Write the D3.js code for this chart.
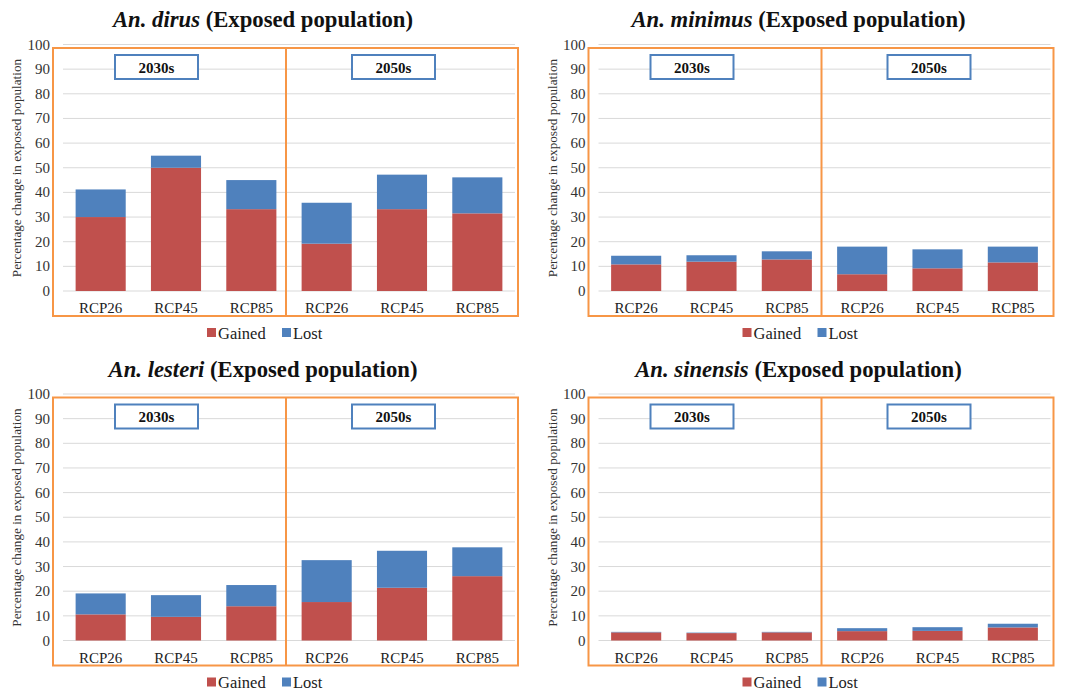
<!DOCTYPE html>
<html>
<head>
<meta charset="utf-8">
<script src="https://cdn.jsdelivr.net/npm/d3@7"></script>
<style>
  body { margin: 0; background: #fff; }
  text { font-family: 'Liberation Serif', 'Times New Roman', Times, serif; }
</style>
</head>
<body>
<svg id="chart" width="1072" height="691" font-family="Liberation Serif, Times New Roman, serif"></svg>
<script>
// categories and series (percentage change in exposed population)
var scenarios = ["RCP26", "RCP45", "RCP85"];
var periods = ["2030s", "2050s"];
var yTicks = [0, 10, 20, 30, 40, 50, 60, 70, 80, 90, 100];
var species = ["An. dirus", "An. minimus", "An. lesteri", "An. sinensis"];
// order: 2030s RCP26, RCP45, RCP85, 2050s RCP26, RCP45, RCP85
var dirusGained    = [30, 50, 33.2, 19.2, 33.2, 31.5];
var dirusLost      = [11.2, 4.9, 11.8, 16.6, 14.0, 14.6];
var minimusGained  = [10.8, 11.9, 12.8, 6.8, 9.2, 11.6];
var minimusLost    = [3.5, 2.6, 3.3, 11.2, 7.7, 6.4];
var lesteriGained  = [10.6, 9.6, 13.9, 15.6, 21.4, 26.1];
var lesteriLost    = [8.5, 8.8, 8.6, 17.0, 15.0, 11.7];
var sinensisGained = [3.3, 3.0, 3.3, 3.8, 3.9, 5.3];
var sinensisLost   = [0.2, 0.2, 0.2, 1.2, 1.5, 1.5];
var seriesNames = ["Gained", "Lost"];

var colors = { Gained: "#c0504d", Lost: "#4f81bd" };
var orange = "#f79646";
var serif = "Liberation Serif";

var panels = [
    { name: species[0], gained: dirusGained,    lost: dirusLost,    dx: 0,     dy: 0 },
    { name: species[1], gained: minimusGained,  lost: minimusLost,  dx: 535.5, dy: 0 },
    { name: species[2], gained: lesteriGained,  lost: lesteriLost,  dx: 0,     dy: 349.5 },
    { name: species[3], gained: sinensisGained, lost: sinensisLost, dx: 535.5, dy: 349.5 }
];

var svg = d3.select("#chart");

panels.forEach(drawPanel);

function drawPanel(p) {
    var g = svg.append("g").attr("transform", "translate(" + p.dx + "," + p.dy + ")")
        .attr("font-family", serif);

    var cats = [];
    periods.forEach(pr => scenarios.forEach(s => cats.push(pr + "|" + s)));
    var rows = cats.map((c, i) => ({ cat: c, Gained: p.gained[i], Lost: p.lost[i] }));

    var x = d3.scaleBand().domain(cats).range([63, 515])
        .paddingInner(0.335).paddingOuter(0.1675);
    var y = d3.scaleLinear().domain([0, 100]).range([291, 44.5]);

    // title
    var t = g.append("text").attr("x", 263).attr("y", 27)
        .attr("text-anchor", "middle").attr("font-size", 22.7)
        .attr("font-weight", "bold").attr("fill", "#111");
    t.append("tspan").attr("font-style", "italic").text(p.name);
    t.append("tspan").text(" (Exposed population)");

    // gridlines
    g.selectAll("line.grid").data(yTicks).enter()
        .append("line").attr("class", "grid")
        .attr("x1", 63).attr("x2", 515)
        .attr("y1", d => y(d)).attr("y2", d => y(d))
        .attr("stroke", "#d9d9d9").attr("stroke-width", 1);

    // y tick labels
    g.selectAll("text.ytick").data(yTicks).enter()
        .append("text").attr("class", "ytick")
        .attr("x", 50).attr("y", d => y(d) + 5)
        .attr("text-anchor", "end").attr("font-size", 15)
        .attr("fill", "#333").text(d => d);

    // y axis title
    g.append("text")
        .attr("transform", "translate(21,168) rotate(-90)")
        .attr("text-anchor", "middle").attr("font-size", 13.2)
        .attr("fill", "#333")
        .text("Percentage change in exposed population");

    // stacked bars
    var stack = d3.stack().keys(seriesNames)(rows);
    g.selectAll("g.series").data(stack).enter()
        .append("g").attr("class", "series").attr("fill", d => colors[d.key])
        .selectAll("rect").data(d => d).enter()
        .append("rect")
        .attr("x", d => x(d.data.cat))
        .attr("width", x.bandwidth())
        .attr("y", d => y(d[1]))
        .attr("height", d => y(d[0]) - y(d[1]));

    // x labels
    g.selectAll("text.xlab").data(cats).enter()
        .append("text").attr("class", "xlab")
        .attr("x", d => x(d) + x.bandwidth() / 2).attr("y", 313)
        .attr("text-anchor", "middle").attr("font-size", 15)
        .attr("fill", "#222").text(d => d.split("|")[1]);

    // orange frame and divider
    g.append("rect").attr("x", 53).attr("y", 48)
        .attr("width", 465).attr("height", 268)
        .attr("fill", "none").attr("stroke", orange).attr("stroke-width", 2);
    g.append("line").attr("x1", 286).attr("x2", 286)
        .attr("y1", 48).attr("y2", 316)
        .attr("stroke", orange).attr("stroke-width", 2);

    // period boxes
    var boxX = [115, 352];
    periods.forEach((pr, i) => {
        g.append("rect").attr("x", boxX[i]).attr("y", 55)
            .attr("width", 83).attr("height", 24)
            .attr("fill", "#fff").attr("stroke", "#4f81bd").attr("stroke-width", 2);
        g.append("text").attr("x", boxX[i] + 41.5).attr("y", 72.5)
            .attr("text-anchor", "middle").attr("font-size", 15)
            .attr("font-weight", "bold").attr("fill", "#111").text(pr);
    });

    // legend
    var lg = g.append("g").attr("transform", "translate(207,333)");
    var lx = [0, 75];
    seriesNames.forEach((s, i) => {
        lg.append("rect").attr("x", lx[i]).attr("y", -5)
            .attr("width", 9).attr("height", 9).attr("fill", colors[s]);
        lg.append("text").attr("x", lx[i] + 11).attr("y", 5.5)
            .attr("font-size", 16.5)
            .attr("fill", "#222").text(s);
    });
}
</script>
</body>
</html>
